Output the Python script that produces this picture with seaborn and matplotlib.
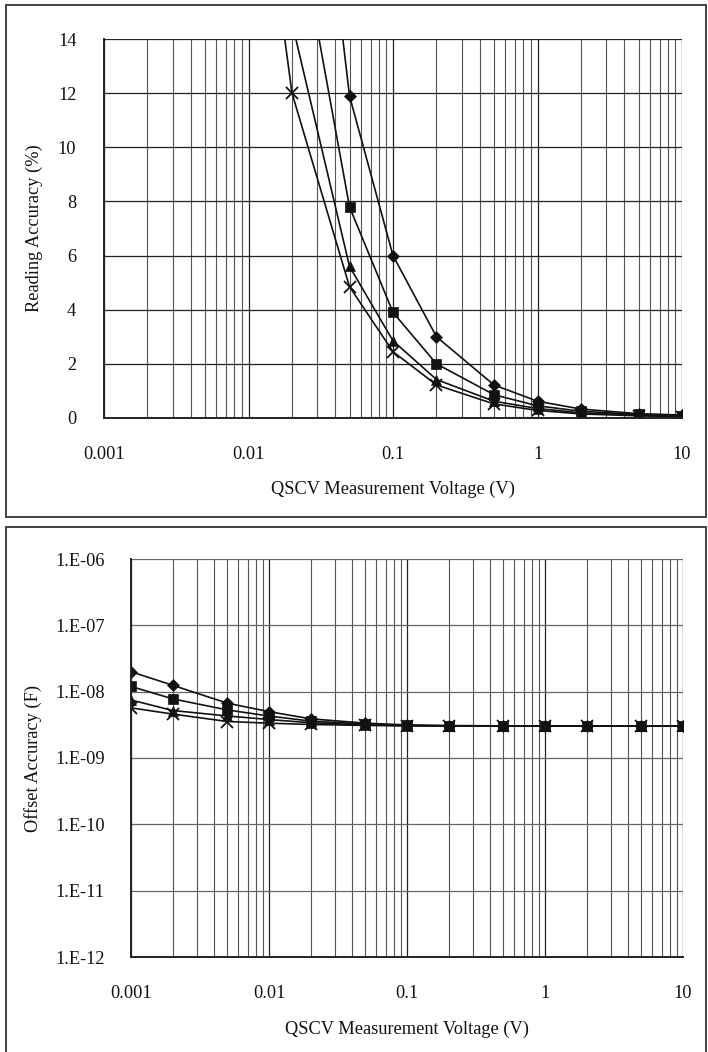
import numpy as np
import pandas as pd
import seaborn as sns
import matplotlib
matplotlib.use("Agg")
import matplotlib.pyplot as plt
from matplotlib.patches import Rectangle

# ---- data ----
volt_top = [0.01, 0.02, 0.05, 0.1, 0.2, 0.5, 1, 2, 5, 10]
read_diamond = [60, 30, 11.9, 6.0, 3.0, 1.22, 0.62, 0.33, 0.16, 0.11]
read_square = [39, 19.5, 7.8, 3.9, 2.0, 0.86, 0.45, 0.25, 0.13, 0.09]
read_triangle = [28, 14.6, 5.6, 2.85, 1.42, 0.62, 0.35, 0.19, 0.10, 0.07]
read_cross = [24, 12.0, 4.85, 2.45, 1.22, 0.52, 0.28, 0.15, 0.08, 0.05]

volt_bot = [0.001, 0.002, 0.005, 0.01, 0.02, 0.05, 0.1, 0.2, 0.5, 1, 2, 5, 10]
off_diamond = [2.0e-8, 1.25e-8, 6.7e-9, 5.0e-9, 3.9e-9, 3.35e-9, 3.15e-9, 3.08e-9, 3.05e-9, 3.05e-9, 3.05e-9, 3.05e-9, 3.05e-9]
off_square = [1.2e-8, 7.8e-9, 5.3e-9, 4.3e-9, 3.6e-9, 3.25e-9, 3.1e-9, 3.06e-9, 3.05e-9, 3.05e-9, 3.05e-9, 3.05e-9, 3.05e-9]
off_triangle = [7.5e-9, 5.2e-9, 4.3e-9, 3.8e-9, 3.4e-9, 3.15e-9, 3.07e-9, 3.05e-9, 3.05e-9, 3.05e-9, 3.05e-9, 3.05e-9, 3.05e-9]
off_cross = [5.7e-9, 4.6e-9, 3.55e-9, 3.35e-9, 3.2e-9, 3.1e-9, 3.05e-9, 3.05e-9, 3.05e-9, 3.05e-9, 3.05e-9, 3.05e-9, 3.05e-9]

xtick_vals = [0.001, 0.01, 0.1, 1, 10]
xtick_text = ["0.001", "0.01", "0.1", "1", "10"]
ytop_vals = [0, 2, 4, 6, 8, 10, 12, 14]
ybot_vals = [1e-12, 1e-11, 1e-10, 1e-9, 1e-8, 1e-7, 1e-6]
ybot_text = ["1.E-12", "1.E-11", "1.E-10", "1.E-09", "1.E-08", "1.E-07", "1.E-06"]

sns.set_theme(style="white")
plt.rcParams["font.family"] = ["Liberation Serif", "DejaVu Serif"]
plt.rcParams["font.size"] = 13.2

fig = plt.figure(figsize=(7.08, 10.52), dpi=100)
W, H = 708, 1052

def px_axes(left, top, right, bottom):
    return fig.add_axes([left / W, 1 - bottom / H, (right - left) / W, (bottom - top) / H])

# panel frames
for (x0, y0, x1, y1) in [(6, 5, 706, 517), (6, 527, 706, 1060)]:
    fig.add_artist(Rectangle((x0 / W, 1 - y1 / H), (x1 - x0) / W, (y1 - y0) / H,
                             transform=fig.transFigure, fill=False,
                             edgecolor="#333333", linewidth=1.3))

minor_x = [m * 10.0 ** e for e in range(-3, 1) for m in range(2, 10)]
markers = [("D", 6.5), ("s", 6.5), ("^", 7.5), ("x", 8)]


def style_axes(ax, ylabel, labx, laby):
    ax.set_xscale("log")
    ax.set_xlim(0.001, 10)
    ax.set_xticks(xtick_vals)
    ax.set_xticklabels(xtick_text)
    ax.set_xticks(minor_x, minor=True)
    ax.set_xticklabels([], minor=True)
    ax.grid(True, which="major", axis="both", color="#222222", linewidth=0.9)
    ax.grid(True, which="minor", axis="x", color="#555555", linewidth=0.8)
    ax.tick_params(which="both", length=0, labelsize=13.2, colors="#111111")
    ax.tick_params(axis="x", pad=20)
    for s in ["top", "right"]:
        ax.spines[s].set_visible(False)
    for s in ["left", "bottom"]:
        ax.spines[s].set_color("#222222")
        ax.spines[s].set_linewidth(1.4)
    ax.set_xlabel("QSCV Measurement Voltage (V)", fontsize=13.2, color="#111111")
    ax.set_ylabel(ylabel, fontsize=13.2, color="#111111")
    ax.xaxis.set_label_coords(0.5, labx)
    ax.yaxis.set_label_coords(laby, 0.5)
    ax.set_axisbelow(True)


# ---- top chart ----
ax1 = px_axes(104, 39, 682, 418)
for vals, (mk, ms) in zip([read_diamond, read_square, read_triangle, read_cross], markers):
    sns.lineplot(x=volt_top, y=vals, ax=ax1, color="#111111", linewidth=1.2,
                 marker=mk, markersize=ms, markeredgewidth=1.3 if mk == "x" else 0.5,
                 markeredgecolor="#111111", estimator=None, sort=False)
ax1.set_ylim(0, 14)
ax1.set_yticks(ytop_vals)
style_axes(ax1, "Reading Accuracy (%)", -0.165, -0.105)
ax1.tick_params(axis="y", pad=20)

# ---- bottom chart ----
ax2 = px_axes(131, 559, 683, 957)
for vals, (mk, ms) in zip([off_diamond, off_square, off_triangle, off_cross], markers):
    sns.lineplot(x=volt_bot, y=vals, ax=ax2, color="#111111", linewidth=1.2,
                 marker=mk, markersize=ms, markeredgewidth=1.3 if mk == "x" else 0.5,
                 markeredgecolor="#111111", estimator=None, sort=False)
ax2.set_yscale("log")
ax2.set_ylim(1e-12, 1e-6)
ax2.set_yticks(ybot_vals)
ax2.set_yticklabels(ybot_text)
ax2.yaxis.set_minor_locator(matplotlib.ticker.NullLocator())
style_axes(ax2, "Offset Accuracy (F)", -0.16, -0.161)
ax2.grid(True, which="major", axis="y", color="#666666", linewidth=0.9)
ax2.tick_params(axis="y", pad=19)

fig.savefig("out.png", dpi=100)
